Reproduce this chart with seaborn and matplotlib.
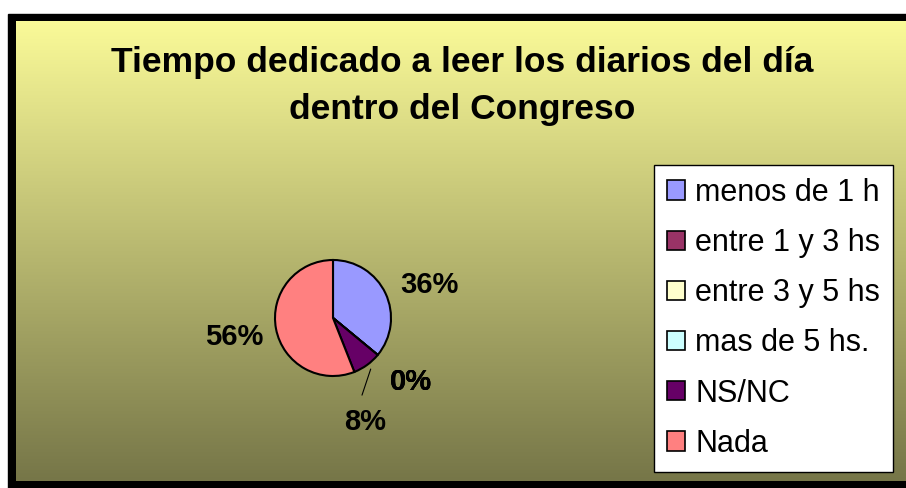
import numpy as np
import matplotlib
matplotlib.use("Agg")
import matplotlib.pyplot as plt
import seaborn as sns

categories = ["menos de 1 h", "entre 1 y 3 hs", "entre 3 y 5 hs", "mas de 5 hs.", "NS/NC", "Nada"]
values = [36, 0, 0, 0, 8, 56]
colors = ["#9999FF", "#993366", "#FFFFCC", "#CCFFFF", "#660066", "#FF8080"]
title = "Tiempo dedicado a leer los diarios del día\ndentro del Congreso"

sns.set_style("white")
plt.rcParams['font.family'] = ['Liberation Sans', 'DejaVu Sans']
plt.rcParams['text.color'] = 'black'

W, H = 906, 488
fig = plt.figure(figsize=(W / 100, H / 100), dpi=100)

# background: white page, black frame, yellow-to-olive gradient
bg = fig.add_axes([0, 0, 1, 1])
bg.set_xlim(0, W)
bg.set_ylim(H, 0)
bg.axis("off")
top = np.array([250, 250, 152]) / 255
bot = np.array([118, 118, 72]) / 255
t = np.linspace(0, 1, 256)[:, None]
grad = (top[None, :] * (1 - t) + bot[None, :] * t)[:, None, :]
bg.add_patch(plt.Rectangle((8, 14), W, H, color="black", zorder=0))
bg.imshow(grad, extent=(16, W, 481, 21), aspect="auto", zorder=1)

fig.text(462 / W, 1 - 86 / H, title, ha="center", va="center", fontsize=25.5,
         fontweight="bold", linespacing=1.56)

# pie
cx, cy, r = 333, 318, 58
ax = fig.add_axes([(cx - r) / W, (H - cy - r) / H, 2 * r / W, 2 * r / H])
wedges, texts, autotexts = ax.pie(values, colors=colors, startangle=90, counterclock=False,
                                  autopct="%1.0f%%", pctdistance=1.74,
                                  wedgeprops=dict(edgecolor="black", linewidth=1.5))
for a in autotexts:
    a.set_fontsize(21)
    a.set_fontweight("bold")
# nudge the 36% label a little lower, like the original
j = categories.index("menos de 1 h")
ang36 = np.deg2rad(19)
autotexts[j].set_position((1.76 * np.cos(ang36), 1.76 * np.sin(ang36)))
# move the 8% label away from the 0% labels, with a leader line
i = categories.index("NS/NC")
ang = np.deg2rad(-73)
autotexts[i].set_position((1.87 * np.cos(ang), 1.87 * np.sin(ang)))
ax.plot([0.65, 0.5], [-0.88, -1.33], color="black", lw=0.8, clip_on=False)
ax.set_xlim(-1, 1)
ax.set_ylim(-1, 1)

leg = fig.legend(wedges, categories, loc="upper left", bbox_to_anchor=(654 / W, 1 - 165 / H),
                 frameon=True, fancybox=False, framealpha=1, edgecolor="black",
                 fontsize=22, handlelength=0.6, handleheight=0.6, handletextpad=0.33,
                 labelspacing=0.66, borderpad=0.42, borderaxespad=0)
leg.get_frame().set_linewidth(1)
for h in leg.legend_handles:
    h.set_edgecolor("black")
    h.set_linewidth(1.2)

fig.savefig("out.png", dpi=100)
